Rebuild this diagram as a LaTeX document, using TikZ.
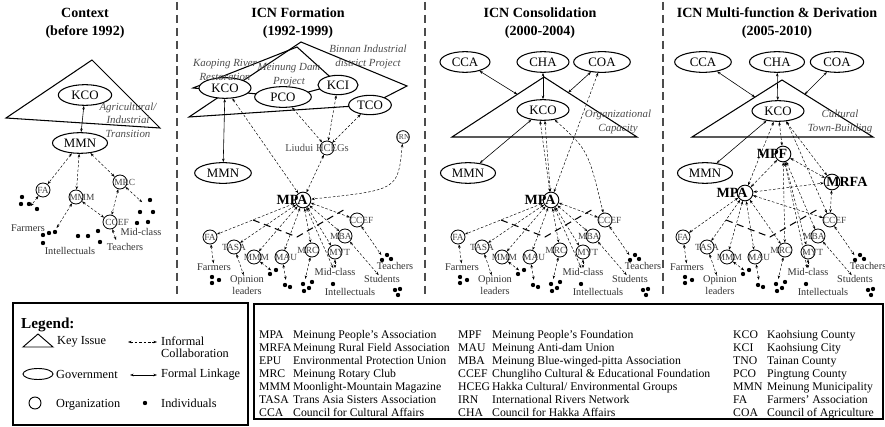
\documentclass[tikz,border=0pt]{standalone}
\usepackage{fontspec}
\setmainfont{Liberation Serif}
\usetikzlibrary{arrows.meta,shapes.geometric,calc}

\tikzset{
  phase/.style={font=\fontsize{12}{15.3}\selectfont\bfseries, align=center, inner sep=0pt},
  issue/.style={line width=0.9pt, line join=miter},
  gov/.style={ellipse, draw, line width=0.9pt, fill=white, inner sep=0pt,
    minimum width=1.56cm, minimum height=0.62cm, font=\fontsize{11}{13}\selectfont},
  org/.style={circle, draw, line width=0.7pt, inner sep=0pt, minimum size=0.42cm},
  orglbl/.style={font=\fontsize{8}{9}\selectfont, text=black!75, inner sep=0pt},
  keyorg/.style={org, minimum size=0.47cm, line width=0.8pt},
  keylbl/.style={font=\fontsize{12}{14}\selectfont\bfseries, inner sep=0pt},
  grouplbl/.style={font=\fontsize{9}{10}\selectfont, text=black!70, inner sep=0pt},
  who/.style={font=\fontsize{8.8}{10.2}\selectfont, text=black!80, inner sep=0pt, align=center},
  topic/.style={font=\fontsize{9.3}{11.5}\selectfont\itshape, text=black!70, align=center, inner sep=0pt},
  formal/.style={<->, >={Stealth[length=3pt,width=2.2pt]}, line width=0.5pt},
  informal/.style={formal, line width=0.4pt, dash pattern=on 2.2pt off 1.6pt},
  boundary/.style={line width=0.9pt, dash pattern=on 6pt off 4pt},
  sep/.style={line width=1.3pt, black!70, dash pattern=on 7pt off 4pt},
  legtxt/.style={anchor=west, inner sep=0pt, font=\fontsize{10.5}{10.2}\selectfont},
  abbr/.style={anchor=north west, inner sep=0pt, font=\fontsize{10}{11.6}\selectfont},
}

% organisations and people under the MPA, drawn once per phase
\newcommand{\drawcluster}[2]{%
\begin{scope}[shift={(#2,0)}]
\node[org,label={[orglbl]center:FA}] (#1-FA) at (210,237) {};
\node[org,label={[orglbl]center:TASA}] (#1-TASA) at (234,247) {};
\node[org,label={[orglbl,xshift=2pt]center:MMM}] (#1-MMM) at (254,257) {};
\node[org,label={[orglbl,xshift=3.5pt]center:MAU}] (#1-MAU) at (282,257) {};
\node[org,label={[orglbl,xshift=-3.5pt]center:MRC}] (#1-MRC) at (312,250) {};
\node[org,label={[orglbl,xshift=4pt]center:MYT}] (#1-MYT) at (335,252) {};
\node[org,label={[orglbl,xshift=-3.5pt]center:MBA}] (#1-MBA) at (345,236) {};
\node[org,label={[orglbl,xshift=4pt]center:CCEF}] (#1-CCEF) at (357,220) {};
\node[who] (#1-farm) at (214,267) {Farmers};
\node[who] (#1-opin) at (247,285) {Opinion\\leaders};
\node[who] (#1-mid) at (335,272) {Mid-class};
\node[who] (#1-teach) at (395,266) {Teachers};
\node[who] (#1-stud) at (382,279) {Students};
\node[who] (#1-intel) at (350,292) {Intellectuals};
\foreach \x/\y in {212/277,219/280,212/283,270/274,276/270,285/285,290/287,
  303/284,309/288,304/291,312/282,333/284,395/290,400/289,398/295,
  382/260,387/255,391/259}
  \fill (\x,\y) circle (0.065cm);
\coordinate (#1-od) at (272,271);
\coordinate (#1-ad) at (286,281);
\coordinate (#1-rd) at (305,280);
\coordinate (#1-td) at (382,256);
\draw[informal] (#1-FA) -- (#1-farm);
\draw[informal] (#1-TASA) -- (#1-opin);
\draw[informal, shorten >=1pt] (#1-MMM) -- (#1-od);
\draw[informal, shorten >=1pt] (#1-MAU) -- (#1-ad);
\draw[informal, shorten >=1pt] (#1-MRC) -- (#1-rd);
\draw[informal] (#1-MYT) -- (#1-mid);
\draw[informal] (#1-MBA) -- (#1-stud);
\draw[informal, shorten >=1pt] (#1-CCEF) -- (#1-td);
\draw[boundary] (253,220) -- (297,237) -- (347,208);
\end{scope}}

\begin{document}
\begin{tikzpicture}[x=0.03cm,y=-0.03cm]
\useasboundingbox (0,0) rectangle (885,427);

% headings and phase separators
\node[phase] (h-ctx) at (85,23) {Context\\(before 1992)};
\node[phase] (h-form) at (298,23) {ICN Formation\\(1992-1999)};
\node[phase] (h-cons) at (540,23) {ICN Consolidation\\(2000-2004)};
\node[phase] (h-multi) at (777,23) {ICN Multi-function \& Derivation\\(2005-2010)};

\draw[sep] (177,2) -- (177,296);
\draw[sep] (425,2) -- (425,296);
\draw[sep] (663,2) -- (663,296);

%% context
\coordinate (x-ap) at (92,60);
\coordinate (x-bl) at (6,118);
\coordinate (x-br) at (160,128);
\draw[issue] (x-bl) -- (x-ap) -- (x-br) -- cycle;
\node[gov, minimum width=1.6cm] (x-KCO) at (85,95) {KCO};
\node[gov, minimum width=1.65cm] (x-MMN) at (80,143) {MMN};
\node[topic] (x-topic) at (128,120) {Agricultural/\\Industrial\\Transition};

\node[org,label={[orglbl]center:FA}] (x-FA) at (43,190) {};
\node[org,label={[orglbl,xshift=5pt]center:MMM}] (x-MMM) at (76,197) {};
\node[org,label={[orglbl,xshift=4pt]center:MRC}] (x-MRC) at (120,182) {};
\node[org,label={[orglbl,xshift=6pt]center:CCEF}] (x-CCEF) at (110,222) {};
\node[who] (x-farm) at (28,228) {Farmers};
\node[who] (x-intel) at (70,251) {Intellectuals};
\node[who] (x-teach) at (125,247) {Teachers};
\node[who] (x-mid) at (141,232) {Mid-class};
\foreach \x/\y in {22/197,21/204,29/204,37/209,43/235,49/233,55/232,43/243,
  78/236,88/236,98/231,100/242,150/200,140/212,153/212,137/223,148/222}
  \fill (\x,\y) circle (0.065cm);
\coordinate (x-fd) at (30,207);
\coordinate (x-id) at (56,229);
\coordinate (x-md) at (143,203);
\coordinate (x-td) at (116,240);

\draw[formal] (x-KCO) -- (x-MMN);
\draw[informal] (x-MMN) -- (x-FA);
\draw[informal] (x-MMN) -- (x-MMM);
\draw[informal] (x-MMN) -- (x-MRC);
\draw[informal, shorten >=1pt] (x-FA) -- (x-fd);
\draw[informal, shorten >=1pt] (x-MMM) -- (x-id);
\draw[informal] (x-MMM) -- (x-CCEF);
\draw[informal] (x-MRC) -- (x-CCEF);
\draw[informal, shorten >=1pt] (x-MRC) -- (x-md);
\draw[informal] (x-CCEF) -- (x-td);

%% formation
\coordinate (f-k1) at (193,88);
\coordinate (f-k2) at (297,47);
\coordinate (f-k3) at (338,84);
\coordinate (f-k4) at (290,97);
\draw[issue] (f-k1) -- (f-k2) -- (f-k3) -- (f-k4) -- cycle;
\coordinate (f-b1) at (189,117);
\coordinate (f-b2) at (301,42);
\coordinate (f-b3) at (407,86);
\coordinate (f-b4) at (370,105);
\draw[issue] (f-b1) -- (f-b2) -- (f-b3) -- (f-b4) -- cycle;

\node[gov] (f-KCO) at (225,88) {KCO};
\node[gov, minimum width=1.7cm] (f-PCO) at (283,97) {PCO};
\node[gov, minimum width=1.2cm, minimum height=0.58cm] (f-KCI) at (338,85) {KCI};
\node[gov, minimum width=1.28cm, minimum height=0.58cm] (f-TCO) at (370,105) {TCO};
\node[gov, minimum width=1.7cm] (f-MMN) at (223,173) {MMN};
\node[topic] (f-kaop) at (225,70) {Kaoping River\\Restoration};
\node[topic] (f-dam) at (289,75) {Meinung Dam\\Project};
\node[topic] (f-binnan) at (368,57) {Binnan Industrial\\district Project};

\node[org,label={[grouplbl,xshift=-8.5pt]center:Liudui HCEGs}] (f-HCEG) at (327,148) {};
\node[org, minimum size=0.38cm, label={[orglbl,font=\fontsize{6.5}{7}\selectfont]center:IRN}] (f-IRN) at (403,137) {};
\node[keyorg,label={[keylbl,xshift=-9.4pt]center:MPA}] (f-MPA) at (303,200) {};
\drawcluster{f}{0}

\draw[formal] (f-KCO) -- (f-MMN);
\draw[informal] (f-KCO) -- (f-MPA);
\draw[informal] (f-PCO) -- (f-HCEG);
\draw[informal] (f-KCI) -- (f-HCEG);
\draw[informal] (f-TCO) -- (f-HCEG);
\draw[informal] (f-HCEG) -- (f-MPA);
\draw[informal] (f-IRN) .. controls (398,190) .. (f-MPA);
\foreach \t in {FA,TASA,MMM,MAU,MRC,MYT,MBA,CCEF}
  \draw[informal] (f-MPA) -- (f-\t);
\draw[informal] (f-MPA) -- (f-mid);

%% consolidation
\node[gov, minimum width=1.5cm] (c-CCA) at (465,62) {CCA};
\node[gov] (c-CHA) at (543,62) {CHA};
\node[gov, minimum width=1.7cm] (c-COA) at (602,62) {COA};
\coordinate (c-ap) at (544,77);
\coordinate (c-bl) at (452,137);
\coordinate (c-br) at (637,137);
\draw[issue] (c-bl) -- (c-ap) -- (c-br) -- cycle;
\node[gov] (c-KCO) at (543,110) {KCO};
\node[gov, minimum width=1.65cm] (c-MMN) at (468,173) {MMN};
\node[topic] (c-topic) at (618,122) {Organizational\\Capacity};
\node[keyorg,label={[keylbl,xshift=-9.4pt]center:MPA}] (c-MPA) at (551,200) {};
\drawcluster{c}{248}

\coordinate (c-tl) at ($(c-ap)!0.29!(c-bl)$);
\coordinate (c-tr) at ($(c-ap)!0.26!(c-br)$);
\draw[formal] (c-CCA) -- (c-tl);
\draw[formal] (c-CHA) -- (c-KCO);
\draw[formal] (c-COA) -- (c-tr);
\draw[formal] (c-KCO) -- (c-MMN);
\draw[informal] (c-KCO.-105) -- (c-MPA);
\draw[informal] (c-KCO.-80) -- (c-MPA);
\draw[informal] (c-COA) -- (c-MPA);
\draw[informal] (c-KCO.-40) .. controls (588,150) .. (c-CCEF);
\foreach \t in {FA,TASA,MMM,MAU,MRC,MYT,MBA,CCEF}
  \draw[informal] (c-MPA) -- (c-\t);
\draw[informal] (c-MPA) -- (c-mid);

%% multi-function
\node[gov, minimum width=1.7cm] (m-CCA) at (703,62) {CCA};
\node[gov, minimum width=1.65cm] (m-CHA) at (777,62) {CHA};
\node[gov, minimum width=1.6cm] (m-COA) at (837,62) {COA};
\coordinate (m-ap) at (782,80);
\coordinate (m-bl) at (692,137);
\coordinate (m-br) at (873,137);
\draw[issue] (m-bl) -- (m-ap) -- (m-br) -- cycle;
\node[gov] (m-KCO) at (778,111) {KCO};
\node[gov, minimum width=1.65cm] (m-MMN) at (705,173) {MMN};
\node[topic] (m-topic) at (840,122) {Cultural\\Town-Building};
\node[keyorg,label={[keylbl,xshift=-9.4pt]center:MPF}] (m-MPF) at (783,154) {};
\node[keyorg,label={[keylbl,xshift=12.7pt]center:MRFA}] (m-MRFA) at (832,182) {};
\node[keyorg,label={[keylbl,xshift=-11pt]center:MPA}] (m-MPA) at (745,193) {};
\drawcluster{m}{473}

\coordinate (m-tl) at ($(m-ap)!0.3!(m-bl)$);
\coordinate (m-tr) at ($(m-ap)!0.25!(m-br)$);
\draw[formal] (m-CCA) -- (m-tl);
\draw[formal] (m-CHA) -- (m-KCO);
\draw[formal] (m-COA) -- (m-tr);
\draw[formal] (m-KCO) -- (m-MMN);
\draw[informal] (m-KCO) -- (m-MPF);
\draw[informal] (m-KCO) -- (m-MPA);
\draw[informal] (m-KCO) -- (m-MRFA);
\draw[informal] (m-KCO.-50) -- (m-CCEF);
\draw[informal] (m-MPF) -- (m-MPA);
\draw[informal] (m-MPF) -- (m-MRFA);
\draw[informal] (m-MPA) -- (m-MRFA);
\draw[informal] (m-MPA) -- (m-CCEF);
\draw[informal] (m-MRFA) -- (m-CCEF);
\foreach \t in {FA,TASA,MMM,MAU,MRC}
  \draw[informal] (m-MPA) -- (m-\t);
\foreach \t in {MRC,MYT,MBA,mid}
  \draw[informal] (m-MPF) -- (m-\t);

%% legend
\draw[line width=0.9pt] (13,303) rectangle (248,425);
\node[font=\fontsize{13}{15}\selectfont\bfseries, anchor=west, inner sep=0pt] (lg-head) at (21,325) {Legend:};
\draw[issue, line width=0.8pt] (23,347) -- (38,334) -- (53,347) -- cycle;
\node[legtxt] (lg-issue) at (57,342) {Key Issue};
\coordinate (lg-i1) at (128,342);
\coordinate (lg-i2) at (157,342);
\draw[informal] (lg-i1) -- (lg-i2);
\node[legtxt, align=left] (lg-inf) at (161,347) {Informal\\Collaboration};
\node[ellipse, draw, line width=0.8pt, inner sep=0pt, minimum width=0.9cm, minimum height=0.33cm] (lg-gov) at (38,374) {};
\node[legtxt] (lg-govt) at (56,374) {Government};
\coordinate (lg-f1) at (130,375);
\coordinate (lg-f2) at (157,375);
\draw[formal] (lg-f1) -- (lg-f2);
\node[legtxt] (lg-form) at (161,375) {Formal Linkage};
\node[circle, draw, line width=0.8pt, inner sep=0pt, minimum size=0.36cm] (lg-org) at (35,403) {};
\node[legtxt] (lg-orgt) at (56,405) {Organization};
\fill (145,403) circle (0.065cm);
\node[legtxt] (lg-ind) at (161,403) {Individuals};

%% abbreviations
\draw[line width=0.9pt] (254,304) rectangle (883,419);
\node[abbr] (tab-a) at (259,329) {\def\arraystretch{0.96}\begin{tabular}{@{}p{29pt}@{}l@{}}
MPA & Meinung People’s Association\\
MRFA & Meinung Rural Field Association\\
EPU & Environmental Protection Union\\
MRC & Meinung Rotary Club\\
MMM & Moonlight-Mountain Magazine\\
TASA & Trans Asia Sisters Association\\
CCA & Council for Cultural Affairs
\end{tabular}};
\node[abbr] (tab-b) at (458,329) {\def\arraystretch{0.96}\begin{tabular}{@{}p{29pt}@{}l@{}}
MPF & Meinung People’s Foundation\\
MAU & Meinung Anti-dam Union\\
MBA & Meinung Blue-winged-pitta Association\\
CCEF & Chungliho Cultural \& Educational Foundation\\
HCEG & Hakka Cultural/ Environmental Groups\\
IRN & International Rivers Network\\
CHA & Council for Hakka Affairs
\end{tabular}};
\node[abbr] (tab-c) at (733,329) {\def\arraystretch{0.96}\begin{tabular}{@{}p{29pt}@{}l@{}}
KCO & Kaohsiung County\\
KCI & Kaohsiung City\\
TNO & Tainan County\\
PCO & Pingtung County\\
MMN & Meinung Municipality\\
FA & Farmers’ Association\\
COA & Council of Agriculture
\end{tabular}};
\end{tikzpicture}
\end{document}
